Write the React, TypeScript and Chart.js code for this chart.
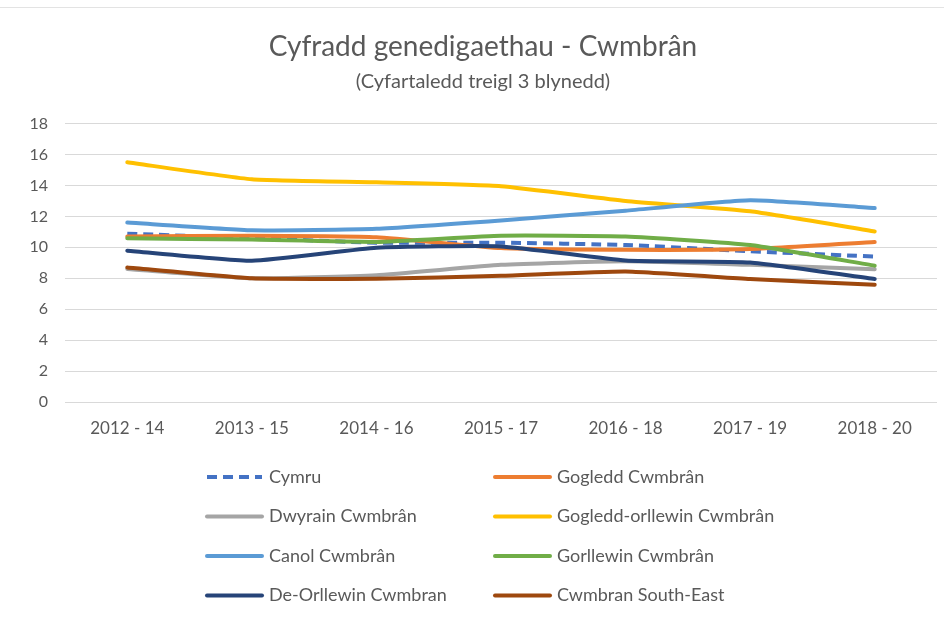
import React, { useEffect, useRef } from "react";
import { Chart, registerables } from "chart.js";

Chart.register(...registerables);

const categories = ["2012 - 14", "2013 - 15", "2014 - 16", "2015 - 17", "2016 - 18", "2017 - 19", "2018 - 20"];

const seriesNames = [
  "Cymru",
  "Gogledd Cwmbrân",
  "Dwyrain Cwmbrân",
  "Gogledd-orllewin Cwmbrân",
  "Canol Cwmbrân",
  "Gorllewin Cwmbrân",
  "De-Orllewin Cwmbran",
  "Cwmbran South-East",
];

const cymru = [10.88, 10.6, 10.3, 10.3, 10.15, 9.75, 9.4];
const gogledd = [10.7, 10.75, 10.65, 9.95, 9.84, 9.89, 10.34];
const dwyrain = [8.6, 8.0, 8.2, 8.87, 9.1, 8.87, 8.59];
const gogleddOrllewin = [15.5, 14.4, 14.2, 13.95, 13.0, 12.33, 11.03];
const canol = [11.6, 11.1, 11.2, 11.74, 12.37, 13.04, 12.54];
const gorllewin = [10.58, 10.5, 10.35, 10.75, 10.7, 10.15, 8.81];
const deOrllewin = [9.78, 9.13, 9.97, 10.06, 9.15, 9.02, 7.95];
const southEast = [8.7, 8.0, 7.97, 8.16, 8.44, 7.95, 7.58];

const seriesValues = [cymru, gogledd, dwyrain, gogleddOrllewin, canol, gorllewin, deOrllewin, southEast];
const seriesColors = ["#4472C4", "#ED7D31", "#A5A5A5", "#FFC000", "#5B9BD5", "#70AD47", "#264478", "#9E480E"];

const yTicks = [0, 2, 4, 6, 8, 10, 12, 14, 16, 18];

const titleText = "Cyfradd genedigaethau - Cwmbrân";
const subtitleText = "(Cyfartaledd treigl 3 blynedd)";

const FONT = "Lato, 'Open Sans', sans-serif";
const TEXT_COLOR = "#595959";

const gridLegend = {
  id: "gridLegend",
  afterDraw(chart: any) {
    const ctx = chart.ctx;
    const colLineX = [207, 495];
    const lineLen = 55;
    const rowY0 = 477;
    const rowDY = 39.5;
    ctx.save();
    // faint chart-area border at the top
    ctx.strokeStyle = "#E3E3E3";
    ctx.lineWidth = 1;
    ctx.beginPath();
    ctx.moveTo(0, 7.5);
    ctx.lineTo(chart.width, 7.5);
    ctx.stroke();

    ctx.font = `18px ${FONT}`;
    ctx.textBaseline = "middle";
    ctx.textAlign = "left";
    chart.data.datasets.forEach((ds: any, i: number) => {
      const col = i % 2;
      const row = Math.floor(i / 2);
      const x = colLineX[col];
      const y = rowY0 + row * rowDY;
      ctx.strokeStyle = ds.borderColor;
      ctx.lineWidth = 4;
      ctx.lineCap = ds.borderDash ? "butt" : "round";
      ctx.setLineDash(ds.borderDash || []);
      ctx.beginPath();
      ctx.moveTo(x, y);
      ctx.lineTo(x + lineLen, y);
      ctx.stroke();
      ctx.setLineDash([]);
      ctx.fillStyle = TEXT_COLOR;
      ctx.fillText(ds.label, x + lineLen + 7, y);
    });
    ctx.restore();
  },
};

export default function App() {
  const ref = useRef<HTMLCanvasElement | null>(null);

  useEffect(() => {
    if (!ref.current) return;
    const datasets = seriesNames.map((name, i) => ({
      label: name,
      data: seriesValues[i],
      borderColor: seriesColors[i],
      backgroundColor: seriesColors[i],
      borderWidth: 4,
      borderDash: i === 0 ? [10, 6] : undefined,
      borderCapStyle: i === 0 ? "butt" : "round",
      borderJoinStyle: "round",
      pointRadius: 0,
      tension: 0.15,
      fill: false,
      order: seriesNames.length - i,
    }));

    const chart = new Chart(ref.current, {
      type: "line",
      data: { labels: categories, datasets: datasets as any },
      plugins: [gridLegend],
      options: {
        responsive: false,
        animation: false,
        layout: { padding: { left: 29, right: 7, top: 0, bottom: 0 } },
        plugins: {
          legend: { display: false },
          tooltip: { enabled: false },
          title: {
            display: true,
            text: titleText,
            color: TEXT_COLOR,
            font: { family: FONT, size: 28, weight: "normal" },
            padding: { top: 30, bottom: 0 },
          },
          subtitle: {
            display: true,
            text: subtitleText,
            color: TEXT_COLOR,
            font: { family: FONT, size: 20, weight: "normal" },
            padding: { top: 6, bottom: 30 },
          },
        },
        scales: {
          x: {
            offset: true,
            grid: { display: false, drawTicks: false },
            border: { display: false },
            ticks: {
              color: TEXT_COLOR,
              font: { family: FONT, size: 17 },
              padding: 16,
              maxRotation: 0,
            },
            afterFit(scale: any) {
              scale.height = 222;
            },
          },
          y: {
            min: 0,
            max: 18,
            afterBuildTicks(scale: any) {
              scale.ticks = yTicks.map((v) => ({ value: v }));
            },
            grid: { color: "#D9D9D9", lineWidth: 1, drawTicks: false },
            border: { display: false },
            ticks: {
              color: TEXT_COLOR,
              font: { family: FONT, size: 16 },
              padding: 17,
            },
            afterFit(scale: any) {
              scale.width = 36;
            },
          },
        },
      } as any,
    });
    return () => chart.destroy();
  }, []);

  return (
    <div style={{ position: "fixed", left: 0, top: 0, width: 944, height: 624, background: "#fff" }}>
      <canvas ref={ref} width={944} height={624} />
    </div>
  );
}
